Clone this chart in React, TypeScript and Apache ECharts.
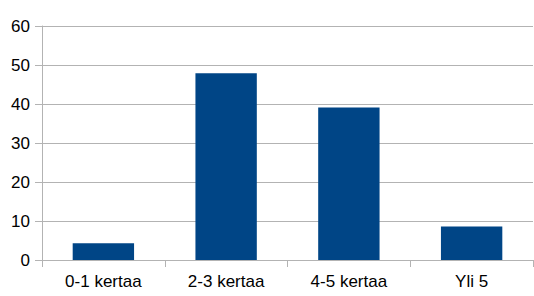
import React, { useEffect, useRef } from "react";
import * as echarts from "echarts";

const categories = ["0-1 kertaa", "2-3 kertaa", "4-5 kertaa", "Yli 5"];
const values = [4.3, 47.9, 39.1, 8.6];
const yMin = 0;
const yMax = 60;
const yStep = 10;

export default function App() {
  const ref = useRef<HTMLDivElement>(null);
  useEffect(() => {
    if (!ref.current) return;
    const chart = echarts.init(ref.current, null, { renderer: "svg" });
    const gray = "#b3b3b3";
    const font = "Liberation Sans";
    chart.setOption({
      animation: false,
      backgroundColor: "#ffffff",
      grid: { left: 42, right: 1, top: 26, bottom: 36 },
      xAxis: {
        type: "category",
        data: categories,
        boundaryGap: true,
        axisLine: { show: true, lineStyle: { color: gray, width: 1 } },
        axisTick: { show: true, length: 7, alignWithLabel: false, lineStyle: { color: gray } },
        axisLabel: { color: "#000", fontFamily: font, fontSize: 17, margin: 13 },
        splitLine: { show: false },
      },
      yAxis: {
        type: "value",
        min: yMin,
        max: yMax,
        interval: yStep,
        axisLine: { show: true, lineStyle: { color: gray, width: 1 } },
        axisTick: { show: true, length: 7, lineStyle: { color: gray } },
        axisLabel: { color: "#000", fontFamily: font, fontSize: 17, margin: 12 },
        splitLine: { show: true, lineStyle: { color: gray, width: 1 } },
      },
      series: [
        {
          type: "bar",
          data: values,
          barWidth: "50%",
          itemStyle: { color: "#004586" },
        },
      ],
    });
    return () => chart.dispose();
  }, []);
  return (
    <div
      ref={ref}
      style={{ position: "fixed", left: 0, top: 0, width: 534, height: 296, background: "#fff" }}
    />
  );
}
